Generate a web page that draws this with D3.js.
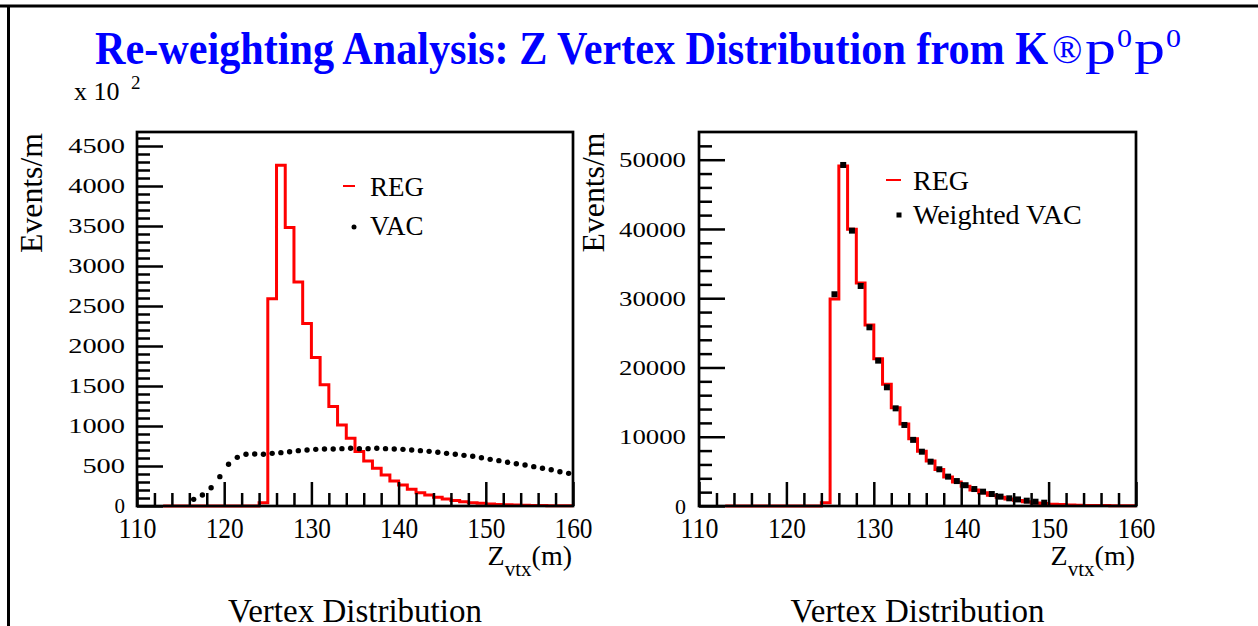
<!DOCTYPE html>
<html><head><meta charset="utf-8">
<script src="https://cdn.jsdelivr.net/npm/d3@7"></script>
<style>
html,body{margin:0;padding:0;background:#fff;}
text{font-family:"Liberation Serif","Times New Roman",serif;}
</style></head>
<body>
<svg id="chart" width="1258" height="626"></svg>
<script>
// ---------------- DATA ----------------
const binEdgeStart = 113;            // first histogram bin low edge
const binWidth = 1;                  // metres
// REG histogram (left panel, units of 10^2 events/m), bins 113..159
const regLeft = [0,0,0,0,0,0,0,0,0,0,0, 40,
  2590,4260,3480,2800,2280,1855,1515,1245,1012,846,680,562,471,387,312,262,208,167,137,108,87,68,54,41,33,25,19,15,11,8,6,5,4,3,2];
// VAC points (left panel), bin centres
const vacLeftX = [116.5,117.5,118.5,119.5,120.5,121.5,122.5,123.5,124.5,125.5,126.5,127.5,128.5,129.5,130.5,131.5,132.5,133.5,134.5,135.5,136.5,137.5,138.5,139.5,140.5,141.5,142.5,143.5,144.5,145.5,146.5,147.5,148.5,149.5,150.5,151.5,152.5,153.5,154.5,155.5,156.5,157.5,158.5,159.5];
const vacLeftY = [83,137,229,367,521,608,646,650,646,658,667,679,692,700,708,712,712,717,721,717,717,721,717,712,708,700,692,683,671,658,646,633,621,604,583,567,546,529,512,492,471,454,429,408];
// REG histogram (right panel, events/m), bins 113..159
const regRight = [0,0,0,0,0,0,0,0,0,0,0, 460,
  29900,49100,39950,32200,26150,21250,17580,14200,11850,9700,7900,6480,5280,4200,3450,2850,2300,1900,1570,1250,1000,800,620,450,350,270,210,160,120,90,70,55,45,35,25];
// Weighted VAC points (right panel)
const wvacX = [125.5,126.5,127.5,128.5,129.5,130.5,131.5,132.5,133.5,134.5,135.5,136.5,137.5,138.5,139.5,140.5,141.5,142.5,143.5,144.5,145.5,146.5,147.5,148.5,149.5];
const wvacY = [30570,49240,39760,31770,25800,20990,17140,14100,11700,9550,7840,6400,5300,4240,3600,3000,2450,2070,1730,1350,1110,950,770,620,480];
// Axis ticks
const xMajor = [110,120,130,140,150,160];
const xMinor = d3.range(112,160,2).filter(v => v % 10 !== 0);
const yMajorLeft = [0,500,1000,1500,2000,2500,3000,3500,4000,4500];
const yMinorLeft = d3.range(100,4700,100).filter(v => v % 500 !== 0);
const yMajorRight = [0,10000,20000,30000,40000,50000];
const yMinorRight = d3.range(2000,54000,2000).filter(v => v % 10000 !== 0);
const legendLeft = ["REG","VAC"];
const legendRight = ["REG","Weighted VAC"];

// ---------------- DRAW ----------------
const svg = d3.select("#chart");
const RED = "#ff0000";
const FONT = '"Liberation Serif","Times New Roman",serif';

// page border
svg.append("line").attr("x1",0).attr("x2",1258).attr("y1",6).attr("y2",6).attr("stroke","#000").attr("stroke-width",3);
svg.append("line").attr("x1",8.5).attr("x2",8.5).attr("y1",6).attr("y2",626).attr("stroke","#000").attr("stroke-width",3);

// title
svg.append("text").attr("x",95).attr("y",64).attr("font-size",46).attr("font-weight","bold")
  .attr("fill","#0000ff").attr("textLength",953).attr("lengthAdjust","spacingAndGlyphs")
  .text("Re-weighting Analysis: Z Vertex Distribution from K");
const tail = svg.append("g").attr("fill","#0000ff");
tail.append("text").attr("x",1052).attr("y",63).attr("font-size",40).text("®");
tail.append("text").attr("x",1085).attr("y",64).attr("font-size",48).attr("textLength",31).attr("lengthAdjust","spacingAndGlyphs").text("p");
tail.append("text").attr("x",1117).attr("y",47).attr("font-size",26).attr("textLength",15).attr("lengthAdjust","spacingAndGlyphs").text("0");
tail.append("text").attr("x",1134).attr("y",64).attr("font-size",48).attr("textLength",31).attr("lengthAdjust","spacingAndGlyphs").text("p");
tail.append("text").attr("x",1166).attr("y",47).attr("font-size",26).attr("textLength",15).attr("lengthAdjust","spacingAndGlyphs").text("0");

// multiplier
svg.append("text").attr("x",74).attr("y",100).attr("font-size",26).text("x 10");
svg.append("text").attr("x",131).attr("y",89).attr("font-size",19).text("2");

function panel(opt){
  const x = d3.scaleLinear().domain([110,160]).range([opt.x0,opt.x1]);
  const y = d3.scaleLinear().domain([0,opt.ymax]).range([506,132]);
  const g = svg.append("g");

  // red step histogram
  const pts = opt.reg.map((v,i)=>[binEdgeStart + i*binWidth, v]);
  pts.push([binEdgeStart + opt.reg.length*binWidth, opt.reg[opt.reg.length-1]]);
  const line = d3.line().x(d=>x(d[0])).y(d=>y(d[1])).curve(d3.curveStepAfter);
  g.append("path").attr("d",line(pts)).attr("fill","none").attr("stroke",RED).attr("stroke-width",3);

  // points
  const pd = opt.px.map((v,i)=>[v,opt.py[i]]);
  if(opt.square){
    g.selectAll("rect.pt").data(pd).join("rect").attr("class","pt")
      .attr("x",d=>x(d[0])-3).attr("y",d=>y(d[1])-3).attr("width",6).attr("height",6).attr("fill","#000");
  } else {
    g.selectAll("circle.pt").data(pd).join("circle").attr("class","pt")
      .attr("cx",d=>x(d[0])).attr("cy",d=>y(d[1])).attr("r",2.7).attr("fill","#000");
  }

  // axes
  const xa = g.append("g").attr("transform","translate(0,506)")
    .call(d3.axisBottom(x).tickValues(xMajor).tickSize(-24).tickPadding(11).tickFormat(d3.format("d")));
  g.append("g").attr("transform","translate(0,506)")
    .call(d3.axisBottom(x).tickValues(xMinor).tickSize(-13).tickFormat(""));
  const ya = g.append("g").attr("transform",`translate(${opt.x0},0)`)
    .call(d3.axisLeft(y).tickValues(opt.yMajor).tickSize(-26).tickPadding(opt.ypad).tickFormat(d3.format("d")));
  g.append("g").attr("transform",`translate(${opt.x0},0)`)
    .call(d3.axisLeft(y).tickValues(opt.yMinor).tickSize(-13).tickFormat(""));
  g.selectAll(".domain").remove();
  g.selectAll(".tick line").attr("stroke","#000").attr("stroke-width",2.5);
  xa.selectAll("text").attr("font-size",29).attr("font-family",FONT).attr("fill","#000")
    .attr("textLength",38).attr("lengthAdjust","spacingAndGlyphs");
  ya.selectAll("text").attr("font-size",opt.yfs).attr("font-family",FONT).attr("fill","#000")
    .each(function(d){ const s=String(d); if(s.length>1) d3.select(this).attr("textLength",s.length*opt.digitW).attr("lengthAdjust","spacingAndGlyphs"); });

  // frame
  g.append("rect").attr("x",opt.x0).attr("y",132).attr("width",opt.x1-opt.x0).attr("height",374)
    .attr("fill","none").attr("stroke","#000").attr("stroke-width",2.7);

  // y title
  g.append("text").attr("transform",`translate(${opt.ytx},${opt.yty}) rotate(-90)`)
    .attr("text-anchor","middle").attr("font-size",32).attr("textLength",120).attr("lengthAdjust","spacingAndGlyphs")
    .text("Events/m");
  // x title
  const xt = g.append("text").attr("x",opt.x1-1).attr("y",565).attr("text-anchor","end").attr("font-size",28);
  xt.append("tspan").text("Z");
  xt.append("tspan").attr("font-size",21).attr("dy",11).text("vtx");
  xt.append("tspan").attr("dy",-11).text("(m)");
  // bottom caption
  g.append("text").attr("x",(opt.x0+opt.x1)/2).attr("y",622).attr("text-anchor","middle").attr("font-size",33)
    .text("Vertex Distribution");

  // legend
  const L = opt.leg;
  g.append("line").attr("x1",L.lx0).attr("x2",L.lx1).attr("y1",L.ly).attr("y2",L.ly).attr("stroke",RED).attr("stroke-width",2);
  g.append("text").attr("x",L.tx).attr("y",L.b1).attr("font-size",L.fs).text(opt.legendText[0]);
  if(opt.square){
    g.append("rect").attr("x",L.dx-2.5).attr("y",L.dy-2.5).attr("width",5).attr("height",5).attr("fill","#000");
  } else {
    g.append("circle").attr("cx",L.dx).attr("cy",L.dy).attr("r",2.5).attr("fill","#000");
  }
  g.append("text").attr("x",L.tx).attr("y",L.b2).attr("font-size",L.fs).text(opt.legendText[1]);
}

panel({x0:137,x1:573,ymax:4675,reg:regLeft,px:vacLeftX,py:vacLeftY,square:false,
  yMajor:yMajorLeft,yMinor:yMinorLeft,ypad:12,yfs:21,digitW:14.2,ytx:42,yty:193,
  legendText:legendLeft,
  leg:{lx0:343,lx1:355,ly:186,tx:370,b1:196,b2:235,dx:354,dy:227,fs:27}});
panel({x0:699,x1:1136,ymax:54000,reg:regRight,px:wvacX,py:wvacY,square:true,
  yMajor:yMajorRight,yMinor:yMinorRight,ypad:13,yfs:22,digitW:13.4,ytx:604,yty:192.5,
  legendText:legendRight,
  leg:{lx0:886,lx1:901,ly:180,tx:913,b1:190,b2:224,dx:899,dy:215,fs:28}});
</script>
</body></html>
